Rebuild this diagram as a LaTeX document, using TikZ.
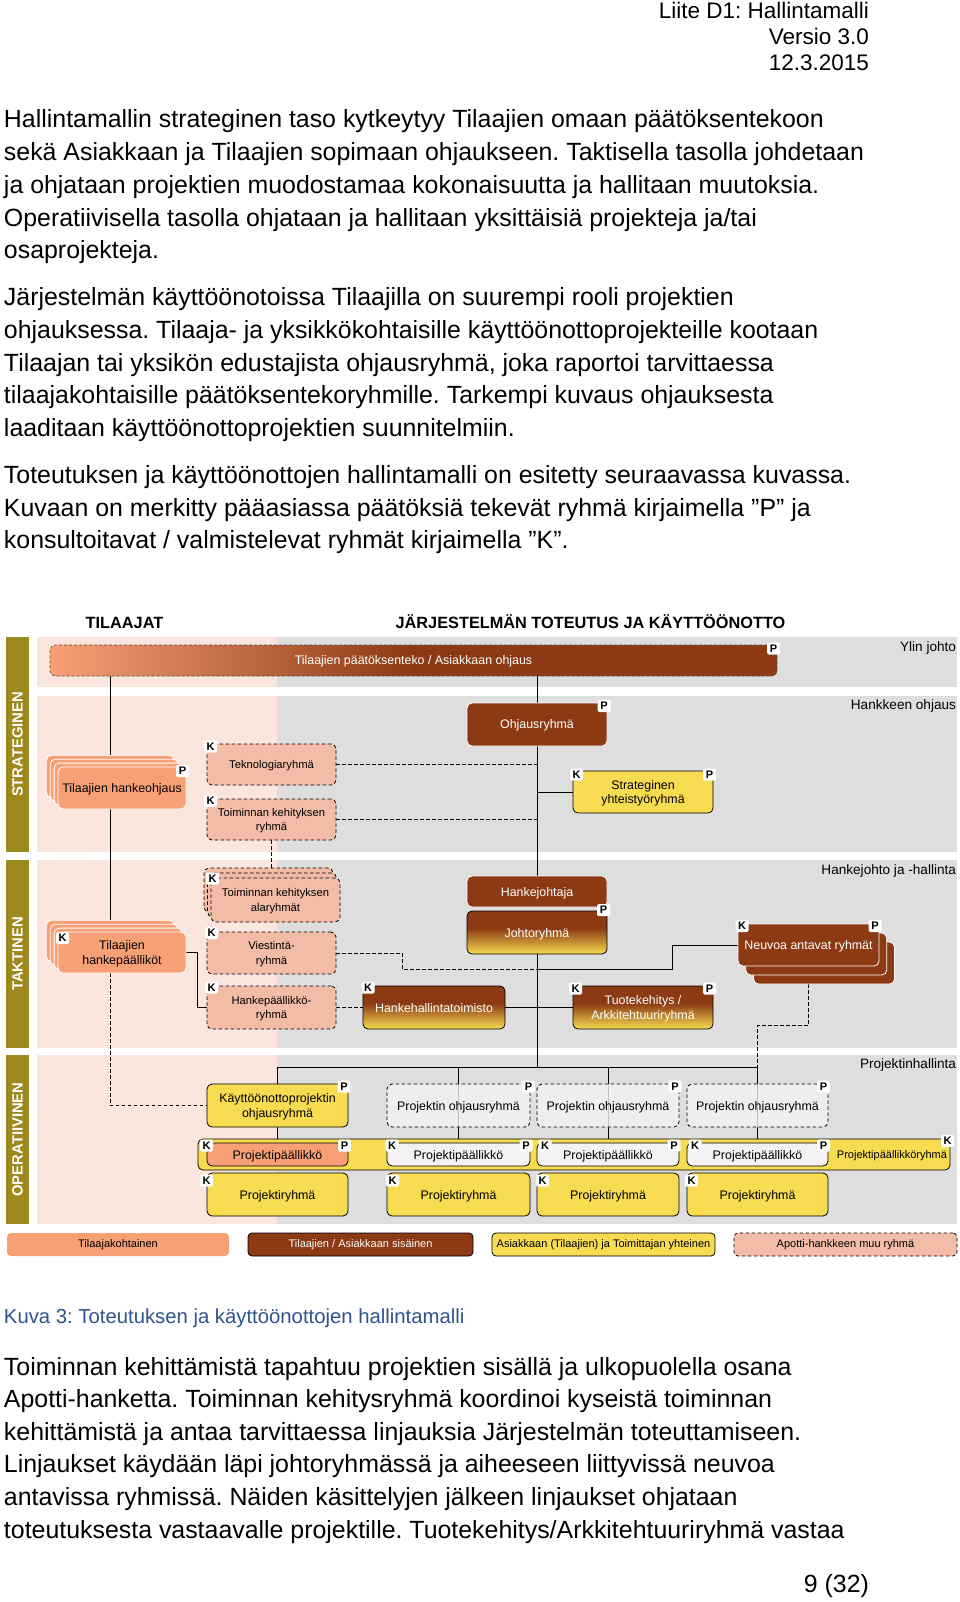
\documentclass[tikz,border=0pt]{standalone}
\usepackage{fontspec}
\setmainfont{Liberation Sans}
\usetikzlibrary{calc}
\definecolor{salmon}{RGB}{247,160,118}
\definecolor{brownc}{RGB}{140,58,20}
\definecolor{yellowc}{RGB}{247,219,80}
\definecolor{lsalmon}{RGB}{242,188,166}
\definecolor{pinkbg}{RGB}{250,230,221}
\definecolor{graybg}{RGB}{222,222,222}
\definecolor{olivec}{RGB}{158,137,30}
\definecolor{boxgray}{RGB}{242,242,242}
\definecolor{capblue}{RGB}{46,84,140}
\pgfdeclarehorizontalshading{topbarshade}{100bp}{color(0bp)=(salmon); color(25bp)=(salmon); color(50bp)=(brownc); color(100bp)=(brownc)}
\pgfdeclareverticalshading{byshade}{100bp}{color(0bp)=(yellowc); color(25bp)=(yellowc); color(55bp)=(brownc); color(100bp)=(brownc)}
\newcommand\fsbody{\fontsize{24.9}{30}\selectfont}
\newcommand\fshead{\fontsize{22.5}{26}\selectfont}
\newcommand\fscap{\fontsize{20.3}{24}\selectfont}
\newcommand\fsnode{\fontsize{12.4}{14.5}\selectfont}
\newcommand\fsdash{\fontsize{11.2}{14.5}\selectfont}
\newcommand\fssmall{\fontsize{11}{13}\selectfont}
\newcommand\fsleg{\fontsize{11}{12}\selectfont}
\newcommand\fsband{\fontsize{13.6}{16}\selectfont}
\newcommand\fstitle{\bfseries\fontsize{16.3}{19}\selectfont}
\newcommand\fsbar{\bfseries\fontsize{14.8}{17}\selectfont}
\newcommand\fslbl{\bfseries\fontsize{11}{12}\selectfont}
\pgfdeclarelayer{bg}
\pgfdeclarelayer{lines}
\pgfsetlayers{bg,lines,main}
\tikzset{
 every node/.style={inner sep=0pt, outer sep=0pt},
 grp/.style={rounded corners=5pt, align=center, font=\fsnode, line width=0.8pt, inner sep=2pt, text depth=-2.8pt},
 salbox/.style={grp, fill=salmon, draw=white},
 brbox/.style={grp, fill=brownc, draw=white, text=white},
 grbox/.style={grp, shading=byshade, draw=black, text=white},
 yebox/.style={grp, fill=yellowc, draw=black},
 dsbox/.style={grp, font=\fsdash, fill=lsalmon, draw=black, dash pattern=on 3.5pt off 2.5pt},
 gdbox/.style={grp, fill=boxgray, fill opacity=0.8, text opacity=1, draw=black, dash pattern=on 3.5pt off 2.5pt},
 whbox/.style={grp, fill=boxgray, draw=black},
 lbl/.style={fill=white, rounded corners=1.5pt, font=\fslbl, minimum width=13pt, minimum height=12pt, inner sep=0pt},
 conn/.style={line width=1pt, draw=black},
 dconn/.style={conn, dash pattern=on 3.5pt off 2.5pt},
 olv/.style={fill=olivec, text=white, font=\fsbar, rotate=90, minimum height=23pt},
 btxt/.style={anchor=base west, font=\fsbody},
 bandlbl/.style={anchor=base east, font=\fsband},
 leg/.style={rounded corners=4pt, font=\fsleg, minimum height=23pt, line width=0.8pt},
}
\begin{document}
\frenchspacing
\begin{tikzpicture}[x=1pt,y=-1pt]
\useasboundingbox (0,0) rectangle (960,1602);
% header
\node[anchor=base east, font=\fshead] (h1) at (869,19) {Liite D1: Hallintamalli};
\node[anchor=base east, font=\fshead] (h2) at (869,44.5) {Versio 3.0};
\node[anchor=base east, font=\fshead] (h3) at (869,71) {12.3.2015};
% body
\node[btxt] (b1) at (4,128) {Hallintamallin strateginen taso kytkeytyy Tilaajien omaan päätöksentekoon};
\node[btxt] (b2) at (4,160.7) {sekä Asiakkaan ja Tilaajien sopimaan ohjaukseen. Taktisella tasolla johdetaan};
\node[btxt] (b3) at (4,193.4) {ja ohjataan projektien muodostamaa kokonaisuutta ja hallitaan muutoksia.};
\node[btxt] (b4) at (4,226.1) {Operatiivisella tasolla ohjataan ja hallitaan yksittäisiä projekteja ja/tai};
\node[btxt] (b5) at (4,258.8) {osaprojekteja.};
\node[btxt] (b6) at (4,305.7) {Järjestelmän käyttöönotoissa Tilaajilla on suurempi rooli projektien};
\node[btxt] (b7) at (4,338.4) {ohjauksessa. Tilaaja- ja yksikkökohtaisille käyttöönottoprojekteille kootaan};
\node[btxt] (b8) at (4,371.1) {Tilaajan tai yksikön edustajista ohjausryhmä, joka raportoi tarvittaessa};
\node[btxt] (b9) at (4,403.8) {tilaajakohtaisille päätöksentekoryhmille. Tarkempi kuvaus ohjauksesta};
\node[btxt] (b10) at (4,436.5) {laaditaan käyttöönottoprojektien suunnitelmiin.};
\node[btxt] (b11) at (4,483.4) {Toteutuksen ja käyttöönottojen hallintamalli on esitetty seuraavassa kuvassa.};
\node[btxt] (b12) at (4,516.1) {Kuvaan on merkitty pääasiassa päätöksiä tekevät ryhmä kirjaimella ”P” ja};
\node[btxt] (b13) at (4,548.8) {konsultoitavat / valmistelevat ryhmät kirjaimella ”K”.};
% bottom text
\node[anchor=base west, font=\fscap, text=capblue] (cap) at (4,1323) {Kuva 3: Toteutuksen ja käyttöönottojen hallintamalli};
\node[btxt] (c1) at (4,1375) {Toiminnan kehittämistä tapahtuu projektien sisällä ja ulkopuolella osana};
\node[btxt] (c2) at (4,1407.6) {Apotti-hanketta. Toiminnan kehitysryhmä koordinoi kyseistä toiminnan};
\node[btxt] (c3) at (4,1440.2) {kehittämistä ja antaa tarvittaessa linjauksia Järjestelmän toteuttamiseen.};
\node[btxt] (c4) at (4,1472.8) {Linjaukset käydään läpi johtoryhmässä ja aiheeseen liittyvissä neuvoa};
\node[btxt] (c5) at (4,1505.4) {antavissa ryhmissä. Näiden käsittelyjen jälkeen linjaukset ohjataan};
\node[btxt] (c6) at (4,1538) {toteutuksesta vastaavalle projektille. Tuotekehitys/Arkkitehtuuriryhmä vastaa};
\node[anchor=base east, font=\fsbody] (pg) at (869,1592) {9 (32)};
% column titles
\node[anchor=base, font=\fstitle] (hT) at (124.5,628) {TILAAJAT};
\node[anchor=base, font=\fstitle] (hJ) at (590.5,628) {JÄRJESTELMÄN TOTEUTUS JA KÄYTTÖÖNOTTO};
% bands
\begin{pgfonlayer}{bg}
\fill[pinkbg] (37,637) rectangle (277,687);
\fill[graybg] (277,637) rectangle (957,687);
\fill[pinkbg] (37,696) rectangle (277,852);
\fill[graybg] (277,696) rectangle (957,852);
\fill[pinkbg] (37,860) rectangle (277,1048);
\fill[graybg] (277,860) rectangle (957,1048);
\fill[pinkbg] (37,1055) rectangle (277,1224);
\fill[graybg] (277,1055) rectangle (957,1224);
\end{pgfonlayer}
\node[olv, minimum width=215pt] (lvS) at (17.5,744.5) {STRATEGINEN};
\node[olv, minimum width=188pt] (lvT) at (17.5,954) {TAKTINEN};
\node[olv, minimum width=169pt] (lvO) at (17.5,1139.5) {OPERATIIVINEN};
\node[bandlbl] (bl1) at (956,651) {Ylin johto};
\node[bandlbl] (bl2) at (956,709) {Hankkeen ohjaus};
\node[bandlbl] (bl3) at (956,874) {Hankejohto ja -hallinta};
\node[bandlbl] (bl4) at (956,1068) {Projektinhallinta};
% strategic
\node[grp, draw=black!70, line width=0.6pt, dash pattern=on 3pt off 2pt, shading=topbarshade, text=white, minimum width=727pt, minimum height=31pt] (top) at (413.5,660.5) {Tilaajien päätöksenteko / Asiakkaan ohjaus};
\node[brbox, minimum width=140pt, minimum height=43pt] (ohj) at (537,724.5) {Ohjausryhmä};
\node[salbox, minimum width=128pt, minimum height=42pt] (tho3) at (110.3,776.3) {};
\node[salbox, minimum width=128pt, minimum height=42pt] (tho2) at (114.2,780.2) {};
\node[salbox, minimum width=128pt, minimum height=42pt] (tho1) at (118.1,784.1) {};
\node[salbox, minimum width=128pt, minimum height=42pt] (tho) at (122,788) {Tilaajien hankeohjaus};
\node[dsbox, minimum width=129pt, minimum height=41pt] (tek) at (271.5,764.5) {Teknologiaryhmä};
\node[dsbox, minimum width=129pt, minimum height=41pt] (tkr) at (271.5,819.5) {Toiminnan kehityksen\\ryhmä};
\node[yebox, minimum width=140pt, minimum height=42pt] (syr) at (643,792) {Strateginen\\yhteistyöryhmä};
% tactical
\node[salbox, minimum width=128pt, minimum height=41pt] (thp3) at (110.3,940.8) {};
\node[salbox, minimum width=128pt, minimum height=41pt] (thp2) at (114.2,944.7) {};
\node[salbox, minimum width=128pt, minimum height=41pt] (thp1) at (118.1,948.6) {};
\node[salbox, minimum width=128pt, minimum height=41pt] (thp) at (122,952.5) {Tilaajien\\hankepäälliköt};
\node[dsbox, minimum width=129pt, minimum height=44pt] (tka3) at (268.5,890) {};
\node[dsbox, minimum width=129pt, minimum height=44pt] (tka2) at (272,895) {};
\node[dsbox, minimum width=129pt, minimum height=44pt] (tka) at (275.5,900) {Toiminnan kehityksen\\alaryhmät};
\node[dsbox, minimum width=129pt, minimum height=42pt] (vie) at (271.5,953) {Viestintä-\\ryhmä};
\node[dsbox, minimum width=129pt, minimum height=43pt] (hpr) at (271.5,1007.5) {Hankepäällikkö-\\ryhmä};
\node[brbox, minimum width=140pt, minimum height=31pt] (hj) at (537,891.5) {Hankejohtaja};
\node[grbox, minimum width=140pt, minimum height=43pt] (jr) at (537,932.5) {Johtoryhmä};
\node[grbox, minimum width=142pt, minimum height=43pt] (hht) at (434,1007.5) {Hankehallintatoimisto};
\node[grbox, minimum width=140pt, minimum height=43pt] (tar) at (643,1007.5) {Tuotekehitys /\\Arkkitehtuuriryhmä};
\node[brbox, minimum width=141pt, minimum height=42pt] (nar3) at (824,963) {};
\node[brbox, minimum width=141pt, minimum height=42pt] (nar2) at (816.2,954) {};
\node[brbox, minimum width=141pt, minimum height=42pt] (nar) at (808.5,945) {Neuvoa antavat ryhmät};
% operative
\node[yebox, minimum width=141pt, minimum height=43pt] (kpo) at (277.5,1105.5) {Käyttöönottoprojektin\\ohjausryhmä};
\node[gdbox, minimum width=143pt, minimum height=43pt] (po1) at (458.5,1105.5) {Projektin ohjausryhmä};
\node[gdbox, minimum width=142pt, minimum height=43pt] (po2) at (608,1105.5) {Projektin ohjausryhmä};
\node[gdbox, minimum width=141pt, minimum height=43pt] (po3) at (757.5,1105.5) {Projektin ohjausryhmä};
\node[yebox, minimum width=752pt, minimum height=31pt] (ppr) at (574,1154.5) {};
\node[font=\fssmall] (pprt) at (892,1155.5) {Projektipäällikköryhmä};
\node[grp, fill=salmon, draw=black, minimum width=141pt, minimum height=23pt] (pp0) at (277.5,1154.5) {Projektipäällikkö};
\node[whbox, minimum width=143pt, minimum height=23pt] (pp1) at (458.5,1154.5) {Projektipäällikkö};
\node[whbox, minimum width=142pt, minimum height=23pt] (pp2) at (608,1154.5) {Projektipäällikkö};
\node[whbox, minimum width=141pt, minimum height=23pt] (pp3) at (757.5,1154.5) {Projektipäällikkö};
\node[yebox, minimum width=141pt, minimum height=43pt] (pr0) at (277.5,1194.5) {Projektiryhmä};
\node[yebox, minimum width=143pt, minimum height=43pt] (pr1) at (458.5,1194.5) {Projektiryhmä};
\node[yebox, minimum width=142pt, minimum height=43pt] (pr2) at (608,1194.5) {Projektiryhmä};
\node[yebox, minimum width=141pt, minimum height=43pt] (pr3) at (757.5,1194.5) {Projektiryhmä};
% legend
\node[leg, fill=salmon, minimum width=222pt] (lg1) at (118,1244.5) {Tilaajakohtainen};
\node[leg, fill=brownc, draw=black, text=white, minimum width=225pt] (lg2) at (360.5,1244.5) {Tilaajien / Asiakkaan sisäinen};
\node[leg, fill=yellowc, draw=black, minimum width=223pt] (lg3) at (603.5,1244.5) {Asiakkaan (Tilaajien) ja Toimittajan yhteinen};
\node[leg, fill=lsalmon, draw=black, dash pattern=on 3.5pt off 2.5pt, minimum width=223pt] (lg4) at (845.5,1244.5) {Apotti-hankkeen muu ryhmä};
% P / K labels
\node[lbl] (l1) at (773.5,648.5) {P};
\node[lbl] (l2) at (604,706) {P};
\node[lbl] (l3) at (182.5,771) {P};
\node[lbl] (l4) at (210.5,746.5) {K};
\node[lbl] (l5) at (210.5,801) {K};
\node[lbl] (l6) at (576.5,774.5) {K};
\node[lbl] (l7) at (709.5,774.5) {P};
\node[lbl] (l8) at (212.5,878.5) {K};
\node[lbl] (l9) at (62.5,938) {K};
\node[lbl] (l10) at (211.5,933) {K};
\node[lbl] (l11) at (211.5,987.5) {K};
\node[lbl] (l12) at (368,987.5) {K};
\node[lbl] (l13) at (603.5,910) {P};
\node[lbl] (l14) at (575.5,988.5) {K};
\node[lbl] (l15) at (709.5,988.5) {P};
\node[lbl] (l16) at (742,926) {K};
\node[lbl] (l17) at (875,926) {P};
\node[lbl] (l18) at (344,1086.5) {P};
\node[lbl] (l19) at (528.5,1086.5) {P};
\node[lbl] (l20) at (675,1086.5) {P};
\node[lbl] (l21) at (823.5,1086.5) {P};
\node[lbl] (l22) at (206.5,1145.5) {K};
\node[lbl] (l23) at (344.5,1145.5) {P};
\node[lbl] (l24) at (392,1145.5) {K};
\node[lbl] (l25) at (526,1145.5) {P};
\node[lbl] (l26) at (545,1145.5) {K};
\node[lbl] (l27) at (674,1145.5) {P};
\node[lbl] (l28) at (695,1145.5) {K};
\node[lbl] (l29) at (823.5,1145.5) {P};
\node[lbl] (l30) at (947.5,1141) {K};
\node[lbl] (l31) at (206.5,1180.5) {K};
\node[lbl] (l32) at (392.5,1180.5) {K};
\node[lbl] (l33) at (542.5,1180.5) {K};
\node[lbl] (l34) at (691.5,1180.5) {K};
% connectors
\coordinate (tL) at (110,0);
\coordinate (hbar) at (0,1067);
\coordinate (jv) at (402,0);
\coordinate (jn) at (672,0);
\coordinate (jy) at (0,969);
\coordinate (nd) at (0,1025);
\begin{pgfonlayer}{lines}
\draw[conn] (top.south -| tL) -- (tho3.north -| tL);
\draw[conn] (tho.south -| tL) -- (thp3.north -| tL);
\draw[dconn] (thp.south -| tL) |- (kpo.west);
\draw[conn] (top.south -| ohj.north) -- (ohj.north);
\draw[conn] (ohj.south) -- (hj.north);
\draw[conn] (jr.south) -- (jr.south |- hbar);
\draw[dconn] (tek.east) -- (tek.east -| ohj.south);
\draw[dconn] (tkr.east) -- (tkr.east -| ohj.south);
\draw[conn] (syr.west) -- (syr.west -| ohj.south);
\draw[dconn] (tkr.south) -- (tka3.north -| tkr.south);
\draw[conn] (thp.east) -- ++(11,0) |- (hpr.west);
\draw[dconn] (vie.east) -- (vie.east -| jv) -- (jv |- jy) -- (jy -| jr.south);
\draw[conn] (jy -| jr.south) -- (jy -| jn) -- (jn |- nar.west) -- (nar.west);
\draw[dconn] (hpr.east) -- (hht.west);
\draw[conn] (hht.east) -- (tar.west);
\draw[dconn] (nar.south) -- (nar.south |- nd) -- (nd -| po3.north) -- (po3.north |- hbar);
\draw[conn] (kpo.north |- hbar) -- (po3.north |- hbar);
\draw[conn] (kpo.north |- hbar) -- (pp0.north);
\draw[conn] (po1.north |- hbar) -- (pp1.north);
\draw[conn] (po2.north |- hbar) -- (pp2.north);
\draw[conn] (po3.north |- hbar) -- (pp3.north);
\end{pgfonlayer}
\end{tikzpicture}
\end{document}
